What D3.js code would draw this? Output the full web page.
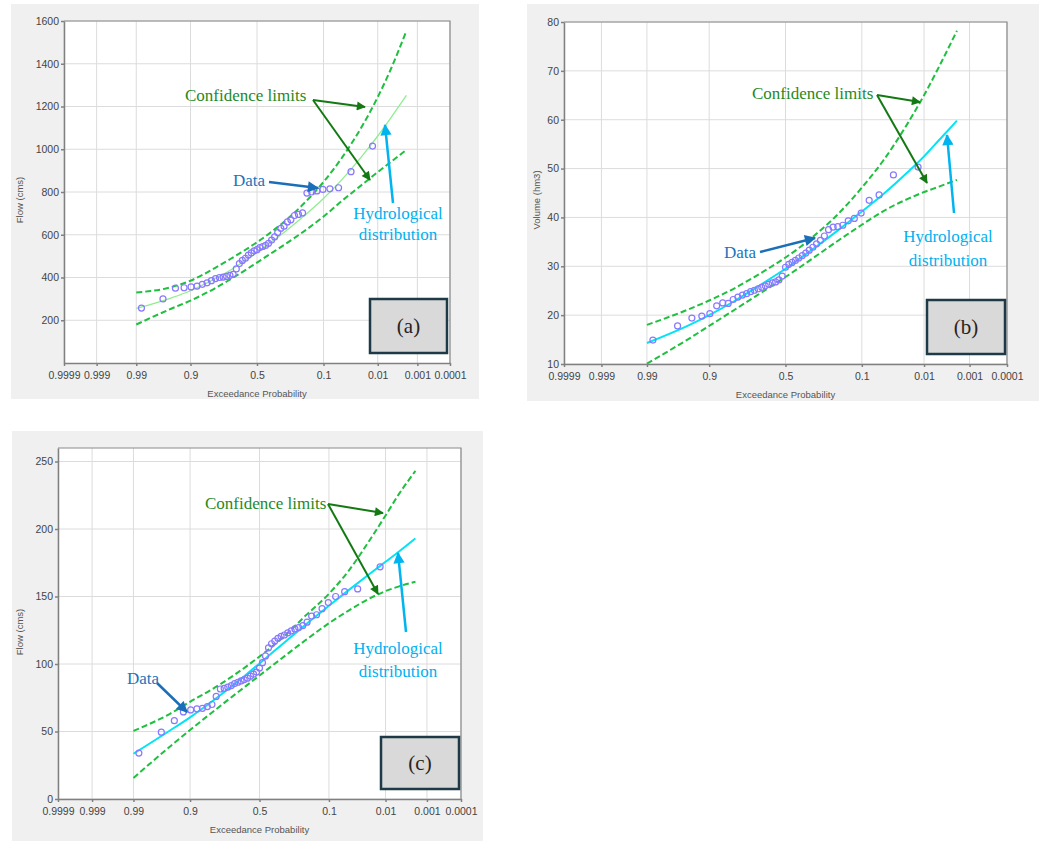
<!DOCTYPE html>
<html>
<head>
<meta charset="utf-8">
<script src="https://cdn.jsdelivr.net/npm/d3@7"></script>
<style>
  body { margin: 0; background: #fff; }
  .axis text { font-family: "Liberation Sans", Arial, sans-serif; font-size: 10.5px; fill: #444; }
  .axis path, .axis line { stroke: #808080; }
  .grid line { stroke: #dcdcdc; stroke-width: 1; }
  .title { font-family: "Liberation Sans", Arial, sans-serif; font-size: 9.5px; fill: #555; }
  .note { font-family: "Liberation Serif", "Times New Roman", serif; font-size: 17px; }
</style>
</head>
<body>
<svg id="chart" width="1045" height="841"></svg>
<script>
// exceedance probabilities shown on the x axis
const xTicks = [0.9999, 0.999, 0.99, 0.9, 0.5, 0.1, 0.01, 0.001, 0.0001];
const xTickLabels = ["0.9999", "0.999", "0.99", "0.9", "0.5", "0.1", "0.01", "0.001", "0.0001"];

// plotting positions of the observed values (ascending value order)
const dataProb = [0.987, 0.965, 0.942, 0.920, 0.898, 0.876, 0.854, 0.832, 0.810, 0.788,
  0.765, 0.743, 0.721, 0.699, 0.677, 0.655, 0.633, 0.611, 0.588, 0.566,
  0.544, 0.522, 0.500, 0.478, 0.456, 0.434, 0.412, 0.389, 0.367, 0.345,
  0.323, 0.301, 0.279, 0.257, 0.235, 0.212, 0.190, 0.168, 0.146, 0.124,
  0.102, 0.080, 0.058, 0.035, 0.013];

// probabilities where the fitted distribution and its limits were read
const curveProb = [0.99, 0.95, 0.9, 0.8, 0.7, 0.6, 0.5, 0.4, 0.3, 0.2, 0.1, 0.05, 0.02, 0.01, 0.005, 0.002];

// (a) peak flow, cms
const yTicksA = [200, 400, 600, 800, 1000, 1200, 1400, 1600];
const flowA = [257, 300, 350, 352, 356, 360, 368, 375, 385, 395,
  400, 402, 405, 410, 415, 440, 465, 480, 490, 505,
  515, 525, 530, 540, 545, 550, 560, 575, 590, 610,
  630, 640, 660, 670, 690, 695, 702, 795, 800, 805,
  812, 815, 820, 895, 1015];
const fitA   = [255, 305, 338, 390, 433, 475, 517, 562, 612, 675, 770, 860, 977, 1062, 1146, 1252];
const upperA = [330, 355, 385, 440, 485, 525, 565, 609, 661, 731, 847, 963, 1120, 1244, 1373, 1553];
const lowerA = [180, 255, 292, 345, 390, 430, 470, 510, 553, 605, 685, 760, 840, 893, 940, 997];

// (b) flood volume, hm3
const yTicksB = [10, 20, 30, 40, 50, 60, 70, 80];
const volumeB = [14.9, 17.8, 19.4, 19.8, 20.3, 21.9, 22.5, 22.4, 23.2, 23.7,
  24.1, 24.4, 24.8, 25.1, 25.4, 25.7, 26.0, 26.3, 26.6, 26.8,
  27.2, 28.0, 29.8, 30.4, 30.8, 31.2, 31.7, 32.2, 32.7, 33.3,
  33.9, 34.6, 35.3, 36.2, 37.5, 38.0, 38.1, 38.4, 39.3, 39.8,
  40.9, 43.5, 44.6, 48.7, 50.3];
const fitB   = [14.3, 17.8, 20.0, 23.0, 25.4, 27.5, 29.5, 31.7, 34.1, 37.0, 41.2, 44.8, 49.3, 52.5, 55.8, 59.8];
const upperB = [18.0, 21.1, 23.0, 25.6, 27.8, 29.8, 31.8, 34.0, 36.7, 40.2, 46.1, 51.7, 59.3, 65.0, 70.8, 78.2];
const lowerB = [10.1, 15.0, 17.8, 21.2, 23.7, 25.8, 27.8, 29.9, 32.2, 34.9, 38.5, 41.3, 43.8, 45.2, 46.3, 47.7];

// (c) peak flow, cms
const yTicksC = [0, 50, 100, 150, 200, 250];
const flowC = [34, 49.5, 58, 64.5, 66, 66.8, 67.2, 68.5, 70, 76,
  81.5, 82, 82.8, 84, 85.5, 86.5, 87.5, 88.5, 89.5, 91,
  92.5, 94, 97, 101, 106, 112, 115, 117, 119, 120.5,
  121.5, 123, 124.5, 126, 127, 128.5, 131, 135.5, 136.5, 141,
  145.5, 150, 153.6, 155.6, 172];
const fitC   = [33.5, 50.9, 60.5, 73.3, 83.1, 91.9, 100.4, 109, 118.2, 128.8, 143.1, 154.7, 167.4, 175.7, 183.3, 193];
const upperC = [50.4, 63.3, 72, 82.1, 90.3, 97.9, 105.5, 113.6, 123.1, 135.5, 152, 169, 193, 210, 226, 243];
const lowerC = [15.6, 39.1, 51.1, 65.2, 75.2, 83.6, 91.5, 99.3, 107.7, 117.4, 130.2, 139.6, 149, 154, 157.5, 161];

// inverse standard normal (Acklam), used for the probability axis
function qnorm(p) {
  var a = [-39.69683028665376, 220.9460984245205, -275.9285104469687, 138.3577518672690, -30.66479806614716, 2.506628277386029],
      b = [-54.47609879822406, 161.5858368580409, -155.6989798598866, 66.80131188771972, -13.28068155288572],
      c = [-0.007784894002430293, -0.3223964580411365, -2.400758277161838, -2.549732539343734, 4.374664141464968, 2.938163982698783],
      d = [0.007784695709041462, 0.3224671290700398, 2.445134137142996, 3.754408661907416],
      q, r;
  if (p < 0.02425) {
    q = Math.sqrt(-2 * Math.log(p));
    return (((((c[0]*q+c[1])*q+c[2])*q+c[3])*q+c[4])*q+c[5]) / ((((d[0]*q+d[1])*q+d[2])*q+d[3])*q+1);
  }
  if (p > 1 - 0.02425) return -qnorm(1 - p);
  q = p - 0.5; r = q * q;
  return (((((a[0]*r+a[1])*r+a[2])*r+a[3])*r+a[4])*r+a[5])*q / (((((b[0]*r+b[1])*r+b[2])*r+b[3])*r+b[4])*r+1);
}

const panels = [
  { key: "a", bg: [11, 4, 468, 395], l: 64, r: 450, t: 21, b: 363,
    yDomain: [0, 1600], yTicks: yTicksA, yTitle: "Flow (cms)", yTitleX: 20, yTitleY: 200,
    values: flowA, fit: fitA, upper: upperA, lower: lowerA, fitColor: "#8fee8f", fitWidth: 1.3,
    conf: [185, 101], confFrom: [313, 100], confTo: [[365, 107], [370, 180]],
    dataText: [233, 186], dataFrom: [269, 182], dataTo: [318, 188],
    hydro: [398, 219, 240], hydroFrom: [393, 203], hydroTo: [385, 125],
    box: [370, 299, 77, 54] },
  { key: "b", bg: [527, 4, 512, 397], l: 564, r: 1007, t: 22, b: 364,
    yDomain: [10, 80], yTicks: yTicksB, yTitle: "Volume (hm3)", yTitleX: 537, yTitleY: 200,
    values: volumeB, fit: fitB, upper: upperB, lower: lowerB, fitColor: "#00e4f4", fitWidth: 2,
    conf: [752, 99], confFrom: [877, 95], confTo: [[920, 102], [927, 183]],
    dataText: [724, 258], dataFrom: [760, 252], dataTo: [815, 238],
    hydro: [948, 242, 266], hydroFrom: [954, 213], hydroTo: [947, 135],
    box: [927, 300, 78, 54] },
  { key: "c", bg: [12, 431, 471, 410], l: 58, r: 461, t: 448, b: 799,
    yDomain: [0, 260], yTicks: yTicksC, yTitle: "Flow (cms)", yTitleX: 20, yTitleY: 632,
    values: flowC, fit: fitC, upper: upperC, lower: lowerC, fitColor: "#00e4f4", fitWidth: 2,
    conf: [205, 509], confFrom: [328, 504], confTo: [[383, 513], [378, 594]],
    dataText: [127, 684], dataFrom: [157, 683], dataTo: [187, 712],
    hydro: [398, 654, 677], hydroFrom: [406, 632], hydroTo: [398, 553],
    box: [381, 737, 78, 52] }
];

const svg = d3.select("#chart");

// arrow heads
const defs = svg.append("defs");
[["green", "#137a13"], ["blue", "#1b6fb8"], ["cyan", "#00b4f0"]].forEach(function(m) {
  defs.append("marker")
      .attr("id", "arrow-" + m[0])
      .attr("viewBox", "0 0 10 10")
      .attr("refX", 9).attr("refY", 5)
      .attr("markerWidth", 5).attr("markerHeight", 4.5)
      .attr("orient", "auto")
    .append("path")
      .attr("d", "M0,0L10,5L0,10z")
      .attr("fill", m[1]);
});

function arrow(g, from, to, color, name, w) {
  g.append("line")
      .attr("x1", from[0]).attr("y1", from[1])
      .attr("x2", to[0]).attr("y2", to[1])
      .attr("stroke", color).attr("stroke-width", w || 2)
      .attr("marker-end", "url(#arrow-" + name + ")");
}

panels.forEach(function(p) {
  const g = svg.append("g");

  g.append("rect")
      .attr("x", p.bg[0]).attr("y", p.bg[1])
      .attr("width", p.bg[2]).attr("height", p.bg[3])
      .attr("fill", "#f0f0f0");
  g.append("rect")
      .attr("x", p.l).attr("y", p.t)
      .attr("width", p.r - p.l).attr("height", p.b - p.t)
      .attr("fill", "#fff");

  const x = d3.scaleLinear()
      .domain([qnorm(1 - 0.9999), qnorm(1 - 0.0001)])
      .range([p.l, p.r]);
  const px = function(prob) { return x(qnorm(1 - prob)); };
  const y = d3.scaleLinear().domain(p.yDomain).range([p.b, p.t]);

  // grid
  const grid = g.append("g").attr("class", "grid");
  grid.selectAll(".gx").data(xTicks).enter().append("line")
      .attr("x1", px).attr("x2", px)
      .attr("y1", p.t).attr("y2", p.b);
  grid.selectAll(".gy").data(p.yTicks).enter().append("line")
      .attr("x1", p.l).attr("x2", p.r)
      .attr("y1", y).attr("y2", y);

  // frame
  g.append("path")
      .attr("d", "M" + p.l + "," + p.t + "H" + p.r + "V" + p.b)
      .attr("fill", "none").attr("stroke", "#8a8a8a").attr("stroke-width", 1.2);

  g.append("g")
      .attr("class", "axis")
      .attr("transform", "translate(0," + p.b + ")")
      .call(d3.axisBottom(x)
        .tickValues(xTicks.map(function(t) { return qnorm(1 - t); }))
        .tickFormat(function(d, i) { return xTickLabels[i]; })
        .tickSize(3).tickPadding(6).tickSizeOuter(0))
      .selectAll("path, line").attr("stroke-width", 1.5);

  g.append("g")
      .attr("class", "axis")
      .attr("transform", "translate(" + p.l + ",0)")
      .call(d3.axisLeft(y).tickValues(p.yTicks).tickFormat(d3.format("d"))
        .tickSize(3).tickPadding(2).tickSizeOuter(0))
      .selectAll("path, line").attr("stroke-width", 1.5);

  g.append("text")
      .attr("class", "title")
      .attr("x", (p.l + p.r) / 2).attr("y", p.b + 34)
      .attr("text-anchor", "middle")
      .text("Exceedance Probability");
  g.append("text")
      .attr("class", "title")
      .attr("transform", "translate(" + p.yTitleX + "," + p.yTitleY + ")rotate(-90)")
      .attr("text-anchor", "middle")
      .attr("dy", "0.35em")
      .text(p.yTitle);

  // fitted distribution and confidence limits
  const line = d3.line()
      .curve(d3.curveMonotoneX)
      .x(function(d) { return px(d[0]); })
      .y(function(d) { return y(d[1]); });

  [p.upper, p.lower].forEach(function(s) {
    g.append("path")
        .attr("d", line(d3.zip(curveProb, s)))
        .attr("fill", "none")
        .attr("stroke", "#1fbf3f")
        .attr("stroke-width", 2)
        .attr("stroke-dasharray", "6,3");
  });
  g.append("path")
      .attr("d", line(d3.zip(curveProb, p.fit)))
      .attr("fill", "none")
      .attr("stroke", p.fitColor)
      .attr("stroke-width", p.fitWidth);

  g.append("g").selectAll("circle")
      .data(d3.zip(dataProb, p.values))
    .enter().append("circle")
      .attr("cx", function(d) { return px(d[0]); })
      .attr("cy", function(d) { return y(d[1]); })
      .attr("r", 3)
      .attr("fill", "none")
      .attr("stroke", "#8878ff")
      .attr("stroke-width", 1.2);

  // annotations
  g.append("text").attr("class", "note")
      .attr("x", p.conf[0]).attr("y", p.conf[1])
      .attr("fill", "#1f8a1f")
      .text("Confidence limits");
  p.confTo.forEach(function(t) { arrow(g, p.confFrom, t, "#137a13", "green"); });

  g.append("text").attr("class", "note")
      .attr("x", p.dataText[0]).attr("y", p.dataText[1])
      .attr("fill", "#1c74bb")
      .text("Data");
  arrow(g, p.dataFrom, p.dataTo, "#1b6fb8", "blue", 2.5);

  g.append("text").attr("class", "note")
      .attr("x", p.hydro[0]).attr("y", p.hydro[1])
      .attr("text-anchor", "middle").attr("fill", "#00b0f0")
      .text("Hydrological");
  g.append("text").attr("class", "note")
      .attr("x", p.hydro[0]).attr("y", p.hydro[2])
      .attr("text-anchor", "middle").attr("fill", "#00b0f0")
      .text("distribution");
  arrow(g, p.hydroFrom, p.hydroTo, "#00b4f0", "cyan", 2.5);

  g.append("rect")
      .attr("x", p.box[0]).attr("y", p.box[1])
      .attr("width", p.box[2]).attr("height", p.box[3])
      .attr("fill", "#d9d9d9")
      .attr("stroke", "#1e3a46").attr("stroke-width", 2.5);
  g.append("text")
      .attr("x", p.box[0] + p.box[2] / 2).attr("y", p.box[1] + p.box[3] / 2)
      .attr("dy", "0.35em")
      .attr("text-anchor", "middle")
      .attr("font-family", "'Liberation Serif', serif")
      .attr("font-size", 21)
      .attr("fill", "#2a2320")
      .text("(" + p.key + ")");
});
</script>
</body>
</html>
